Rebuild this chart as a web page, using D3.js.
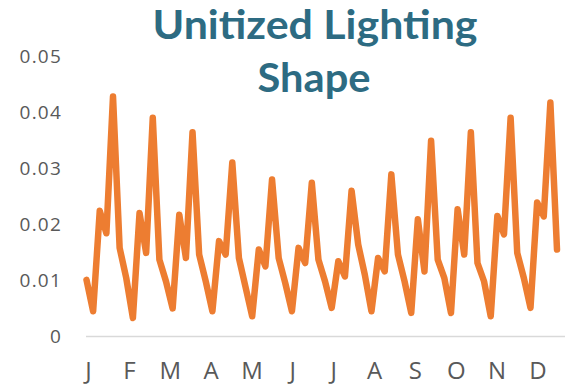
<!DOCTYPE html>
<html>
<head>
<meta charset="utf-8">
<script src="https://cdn.jsdelivr.net/npm/d3@7"></script>
<style>
  html, body { margin: 0; padding: 0; background: #ffffff; }
  svg { display: block; }
</style>
</head>
<body>
<svg id="chart" width="565" height="389"></svg>
<script>
// Month initials shown under the axis
const monthLabels = ["J", "F", "M", "A", "M", "J", "J", "A", "S", "O", "N", "D"];

// Unitized lighting fraction for six time-of-day blocks, one value per month
const lateNight = [0.0101, 0.0104, 0.0098, 0.0098, 0.0088, 0.0095, 0.0098, 0.0110, 0.0098, 0.0104, 0.0098, 0.0104];
const preDawn   = [0.0045, 0.0033, 0.0050, 0.0045, 0.0036, 0.0045, 0.0051, 0.0045, 0.0042, 0.0042, 0.0036, 0.0051];
const morning   = [0.0224, 0.0220, 0.0217, 0.0170, 0.0155, 0.0158, 0.0134, 0.0140, 0.0209, 0.0227, 0.0215, 0.0239];
const midday    = [0.0184, 0.0149, 0.0140, 0.0146, 0.0125, 0.0131, 0.0107, 0.0116, 0.0116, 0.0146, 0.0182, 0.0214];
const evening   = [0.0428, 0.0390, 0.0364, 0.0310, 0.0280, 0.0274, 0.0260, 0.0289, 0.0349, 0.0364, 0.0390, 0.0417];
const night     = [0.0158, 0.0137, 0.0146, 0.0140, 0.0140, 0.0137, 0.0164, 0.0146, 0.0137, 0.0131, 0.0149, 0.0155];

// Value axis ticks
const yTicks = [0, 0.01, 0.02, 0.03, 0.04, 0.05];
const yTickLabels = ["0", "0.01", "0.02", "0.03", "0.04", "0.05"];

// Chronological series: month by month, block by block
const blocks = [lateNight, preDawn, morning, midday, evening, night];
const series = [];
monthLabels.forEach((m, mi) => blocks.forEach(b => series.push(b[mi])));

const svg = d3.select("#chart");
const textGray = "#595959";

const y = d3.scaleLinear().domain([0, 0.05]).range([336.5, 56]);
const x = d3.scaleLinear().domain([0, series.length - 1]).range([86.5, 557]);
const xMonth = d3.scalePoint().domain(d3.range(monthLabels.length)).range([88, 537.5]);

// Title
const title = svg.append("g")
  .attr("font-family", "Lato, 'Open Sans', sans-serif")
  .attr("font-weight", 700)
  .attr("font-size", 40)
  .attr("fill", "#2D6B82")
  .attr("text-anchor", "middle");
title.append("text").attr("x", 315).attr("y", 39)
  .attr("textLength", 325).attr("lengthAdjust", "spacingAndGlyphs")
  .text("Unitized Lighting");
title.append("text").attr("x", 314).attr("y", 92)
  .attr("textLength", 113).attr("lengthAdjust", "spacingAndGlyphs")
  .text("Shape");

// Value axis labels
const yAxis = d3.axisLeft(y)
  .tickValues(yTicks)
  .tickFormat((d, i) => yTickLabels[i])
  .tickSize(0)
  .tickPadding(0);
const yG = svg.append("g").attr("transform", "translate(62,0)").call(yAxis);
yG.select(".domain").remove();
yG.selectAll("text")
  .attr("font-family", "'Open Sans', sans-serif")
  .attr("font-size", 19)
  .attr("letter-spacing", 1.2)
  .attr("fill", textGray);

// Baseline
svg.append("line")
  .attr("x1", 86).attr("x2", 565)
  .attr("y1", y(0)).attr("y2", y(0))
  .attr("stroke", "#d9d9d9")
  .attr("stroke-width", 1.5);

// Month labels
const xAxis = d3.axisBottom(xMonth)
  .tickFormat(i => monthLabels[i])
  .tickSize(0)
  .tickPadding(0);
const xG = svg.append("g").attr("transform", "translate(0,362)").call(xAxis);
xG.select(".domain").remove();
xG.selectAll("text")
  .attr("dy", "0.71em")
  .attr("font-family", "'Open Sans', sans-serif")
  .attr("font-size", 24)
  .attr("fill", textGray);

// Load shape line
const line = d3.line()
  .x((d, i) => x(i))
  .y(d => y(d));
svg.append("path")
  .datum(series)
  .attr("d", line)
  .attr("fill", "none")
  .attr("stroke", "#ED7D31")
  .attr("stroke-width", 6.5)
  .attr("stroke-linejoin", "round")
  .attr("stroke-linecap", "round");
</script>
</body>
</html>
